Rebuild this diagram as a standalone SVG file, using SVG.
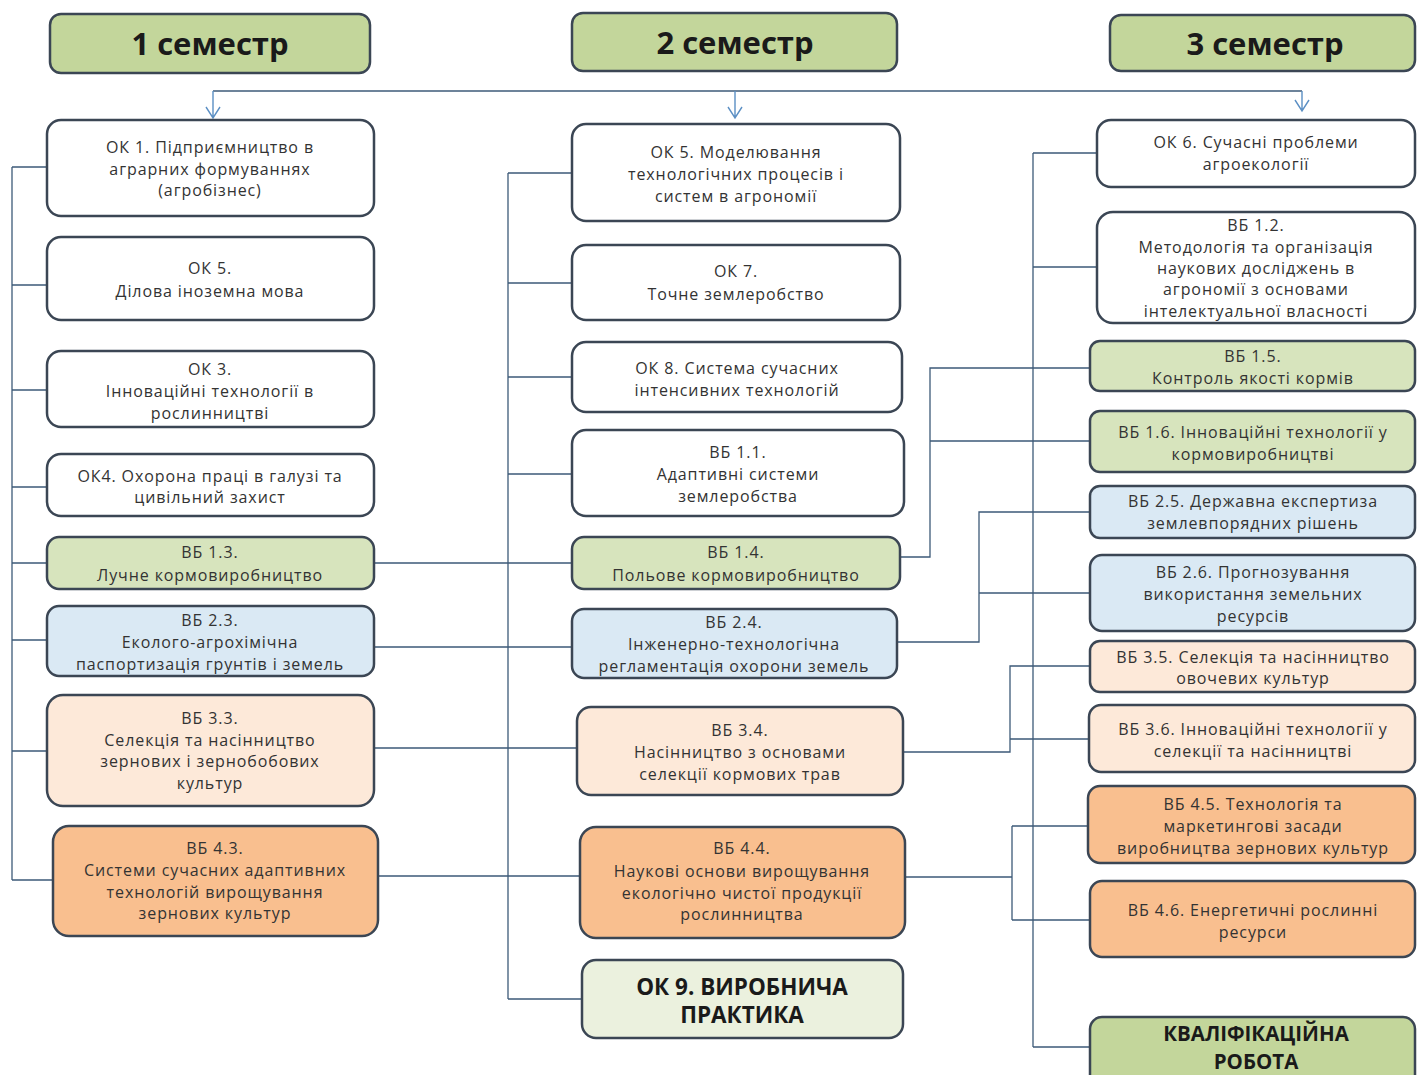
<svg xmlns="http://www.w3.org/2000/svg" width="1417" height="1075" viewBox="0 0 1417 1075">
<style>
.bx{stroke:#3b4654;stroke-width:2.5}
.w{fill:#ffffff}.g{fill:#d7e4bd}.b{fill:#dae9f4}.p{fill:#fde9d9}.o{fill:#f9bf8f}.h{fill:#c3d69b}.lg{fill:#ebf1de}
.t{font-family:"Open Sans","Liberation Sans",sans-serif;font-size:16px;fill:#333333;text-anchor:middle;letter-spacing:0.9px}
.ht{font-family:"Open Sans","Liberation Sans",sans-serif;font-size:31px;font-weight:bold;fill:#1a1a1a;text-anchor:middle}
.bt{font-family:"Open Sans","Liberation Sans",sans-serif;font-size:22.5px;font-weight:bold;fill:#1a1a1a;text-anchor:middle}
.kt{font-family:"Open Sans","Liberation Sans",sans-serif;font-size:20.5px;font-weight:bold;fill:#1a1a1a;text-anchor:middle}
.c{fill:none;stroke:#3d5a78;stroke-width:1.3}
.a{fill:none;stroke:#5b8fc4;stroke-width:1.4}
</style>
<rect width="1417" height="1075" fill="#ffffff"/>

<g id="connectors">
<path class="c" d="M213,91 H1302"/>
<path class="a" d="M213,91 V118 M206,107 L213,118 L220,107"/>
<path class="a" d="M735,91 V118 M728,107 L735,118 L742,107"/>
<path class="a" d="M1302,91 V111 M1295,100 L1302,111 L1309,100"/>
<!-- column 1 trunk -->
<path class="c" d="M12,167 V880"/>
<path class="c" d="M12,167 H47 M12,285 H47 M12,390 H47 M12,487 H47 M12,563 H47 M12,640 H47 M12,751 H47 M12,880 H53"/>
<!-- column 1 to column 2 -->
<path class="c" d="M374,563 H572 M374,647 H572 M374,748 H577 M378,876 H580"/>
<!-- column 2 trunk -->
<path class="c" d="M508,173 V999"/>
<path class="c" d="M508,173 H572 M508,283 H572 M508,377 H572 M508,474 H572 M508,999 H582"/>
<!-- column 3 trunk -->
<path class="c" d="M1033,153 V1047"/>
<path class="c" d="M1033,153 H1097 M1033,267 H1097 M1033,1047 H1090"/>
<!-- column 2 to column 3 -->
<path class="c" d="M900,557 H930 V368 H1090 M930,441 H1090"/>
<path class="c" d="M897,642 H979 V512 H1090 M979,593 H1090"/>
<path class="c" d="M903,752 H1010 V666 H1090 M1010,739 H1090"/>
<path class="c" d="M905,877 H1012 M1012,826 V920 M1012,826 H1088 M1012,920 H1090"/>
</g>

<g id="h1"><rect class="bx h" x="50" y="14" width="320" height="59" rx="11"/><text class="ht" x="210" y="55">1 семестр</text></g>
<g id="h2"><rect class="bx h" x="572" y="13" width="325" height="58" rx="11"/><text class="ht" x="735" y="54">2 семестр</text></g>
<g id="h3"><rect class="bx h" x="1110" y="15" width="305" height="56" rx="11"/><text class="ht" x="1265" y="55">3 семестр</text></g>

<!-- column 1 -->
<g id="n-ok1"><rect class="bx w" x="47" y="120" width="327" height="96" rx="14"/>
<text class="t" x="210" y="153">ОК 1. Підприємництво в</text><text class="t" x="210" y="175">аграрних формуваннях</text><text class="t" x="210" y="196">(агробізнес)</text></g>
<g id="n-ok5a"><rect class="bx w" x="47" y="237" width="327" height="83" rx="14"/>
<text class="t" x="210" y="274">ОК 5.</text><text class="t" x="210" y="297">Ділова іноземна мова</text></g>
<g id="n-ok3"><rect class="bx w" x="47" y="351" width="327" height="76" rx="14"/>
<text class="t" x="210" y="375">ОК 3.</text><text class="t" x="210" y="397">Інноваційні технології в</text><text class="t" x="210" y="419">рослинництві</text></g>
<g id="n-ok4"><rect class="bx w" x="47" y="454" width="327" height="62" rx="14"/>
<text class="t" x="210" y="482">ОК4. Охорона праці в галузі та</text><text class="t" x="210" y="503">цивільний захист</text></g>
<g id="n-vb13"><rect class="bx g" x="47" y="537" width="327" height="52" rx="12"/>
<text class="t" x="210" y="558">ВБ 1.3.</text><text class="t" x="210" y="581">Лучне кормовиробництво</text></g>
<g id="n-vb23"><rect class="bx b" x="47" y="606" width="327" height="70" rx="12"/>
<text class="t" x="210" y="626">ВБ 2.3.</text><text class="t" x="210" y="648">Еколого-агрохімічна</text><text class="t" x="210" y="670">паспортизація грунтів і земель</text></g>
<g id="n-vb33"><rect class="bx p" x="47" y="695" width="327" height="111" rx="16"/>
<text class="t" x="210" y="724">ВБ 3.3.</text><text class="t" x="210" y="746">Селекція та насінництво</text><text class="t" x="210" y="767">зернових і зернобобових</text><text class="t" x="210" y="789">культур</text></g>
<g id="n-vb43"><rect class="bx o" x="53" y="826" width="325" height="110" rx="16"/>
<text class="t" x="215" y="854">ВБ 4.3.</text><text class="t" x="215" y="876">Системи сучасних адаптивних</text><text class="t" x="215" y="898">технологій вирощування</text><text class="t" x="215" y="919">зернових культур</text></g>

<!-- column 2 -->
<g id="n-ok5b"><rect class="bx w" x="572" y="124" width="328" height="97" rx="14"/>
<text class="t" x="736" y="158">ОК 5. Моделювання</text><text class="t" x="736" y="180">технологічних процесів і</text><text class="t" x="736" y="202">систем в агрономії</text></g>
<g id="n-ok7"><rect class="bx w" x="572" y="245" width="328" height="75" rx="14"/>
<text class="t" x="736" y="277">ОК 7.</text><text class="t" x="736" y="300">Точне землеробство</text></g>
<g id="n-ok8"><rect class="bx w" x="572" y="342" width="330" height="70" rx="14"/>
<text class="t" x="737" y="374">ОК 8. Система сучасних</text><text class="t" x="737" y="396">інтенсивних технологій</text></g>
<g id="n-vb11"><rect class="bx w" x="572" y="430" width="332" height="86" rx="14"/>
<text class="t" x="738" y="458">ВБ 1.1.</text><text class="t" x="738" y="480">Адаптивні системи</text><text class="t" x="738" y="502">землеробства</text></g>
<g id="n-vb14"><rect class="bx g" x="572" y="537" width="328" height="52" rx="12"/>
<text class="t" x="736" y="558">ВБ 1.4.</text><text class="t" x="736" y="581">Польове кормовиробництво</text></g>
<g id="n-vb24"><rect class="bx b" x="572" y="609" width="325" height="69" rx="12"/>
<text class="t" x="734" y="628">ВБ 2.4.</text><text class="t" x="734" y="650">Інженерно-технологічна</text><text class="t" x="734" y="672">регламентація охорони земель</text></g>
<g id="n-vb34"><rect class="bx p" x="577" y="707" width="326" height="88" rx="14"/>
<text class="t" x="740" y="736">ВБ 3.4.</text><text class="t" x="740" y="758">Насінництво з основами</text><text class="t" x="740" y="780">селекції кормових трав</text></g>
<g id="n-vb44"><rect class="bx o" x="580" y="827" width="325" height="111" rx="16"/>
<text class="t" x="742" y="854">ВБ 4.4.</text><text class="t" x="742" y="877">Наукові основи вирощування</text><text class="t" x="742" y="899">екологічно чистої продукції</text><text class="t" x="742" y="920">рослинництва</text></g>
<g id="n-ok9"><rect class="bx lg" x="582" y="960" width="321" height="78" rx="14"/>
<text class="bt" x="742" y="995">ОК 9. ВИРОБНИЧА</text><text class="bt" x="742" y="1023">ПРАКТИКА</text></g>

<!-- column 3 -->
<g id="n-ok6"><rect class="bx w" x="1097" y="120" width="318" height="67" rx="14"/>
<text class="t" x="1256" y="148">ОК 6. Сучасні проблеми</text><text class="t" x="1256" y="170">агроекології</text></g>
<g id="n-vb12"><rect class="bx w" x="1097" y="212" width="318" height="111" rx="16"/>
<text class="t" x="1256" y="231">ВБ 1.2.</text><text class="t" x="1256" y="253">Методологія та організація</text><text class="t" x="1256" y="274">наукових досліджень в</text><text class="t" x="1256" y="295">агрономії з основами</text><text class="t" x="1256" y="317">інтелектуальної власності</text></g>
<g id="n-vb15"><rect class="bx g" x="1090" y="341" width="325" height="50" rx="10"/>
<text class="t" x="1253" y="362">ВБ 1.5.</text><text class="t" x="1253" y="384">Контроль якості кормів</text></g>
<g id="n-vb16"><rect class="bx g" x="1090" y="411" width="325" height="61" rx="10"/>
<text class="t" x="1253" y="438">ВБ 1.6. Інноваційні технології у</text><text class="t" x="1253" y="460">кормовиробництві</text></g>
<g id="n-vb25"><rect class="bx b" x="1090" y="486" width="325" height="52" rx="10"/>
<text class="t" x="1253" y="507">ВБ 2.5. Державна експертиза</text><text class="t" x="1253" y="529">землевпорядних рішень</text></g>
<g id="n-vb26"><rect class="bx b" x="1090" y="555" width="325" height="76" rx="12"/>
<text class="t" x="1253" y="578">ВБ 2.6. Прогнозування</text><text class="t" x="1253" y="600">використання земельних</text><text class="t" x="1253" y="622">ресурсів</text></g>
<g id="n-vb35"><rect class="bx p" x="1090" y="641" width="325" height="51" rx="10"/>
<text class="t" x="1253" y="663">ВБ 3.5. Селекція та насінництво</text><text class="t" x="1253" y="684">овочевих культур</text></g>
<g id="n-vb36"><rect class="bx p" x="1089" y="705" width="326" height="67" rx="12"/>
<text class="t" x="1253" y="735">ВБ 3.6. Інноваційні технології у</text><text class="t" x="1253" y="757">селекції та насінництві</text></g>
<g id="n-vb45"><rect class="bx o" x="1088" y="786" width="327" height="77" rx="12"/>
<text class="t" x="1253" y="810">ВБ 4.5. Технологія та</text><text class="t" x="1253" y="832">маркетингові засади</text><text class="t" x="1253" y="854">виробництва зернових культур</text></g>
<g id="n-vb46"><rect class="bx o" x="1090" y="881" width="325" height="76" rx="12"/>
<text class="t" x="1253" y="916">ВБ 4.6. Енергетичні рослинні</text><text class="t" x="1253" y="938">ресурси</text></g>
<g id="n-kval"><rect class="bx h" x="1090" y="1017" width="325" height="70" rx="12"/>
<text class="kt" x="1256" y="1041">КВАЛІФІКАЦІЙНА</text><text class="kt" x="1256" y="1069">РОБОТА</text></g>
</svg>
